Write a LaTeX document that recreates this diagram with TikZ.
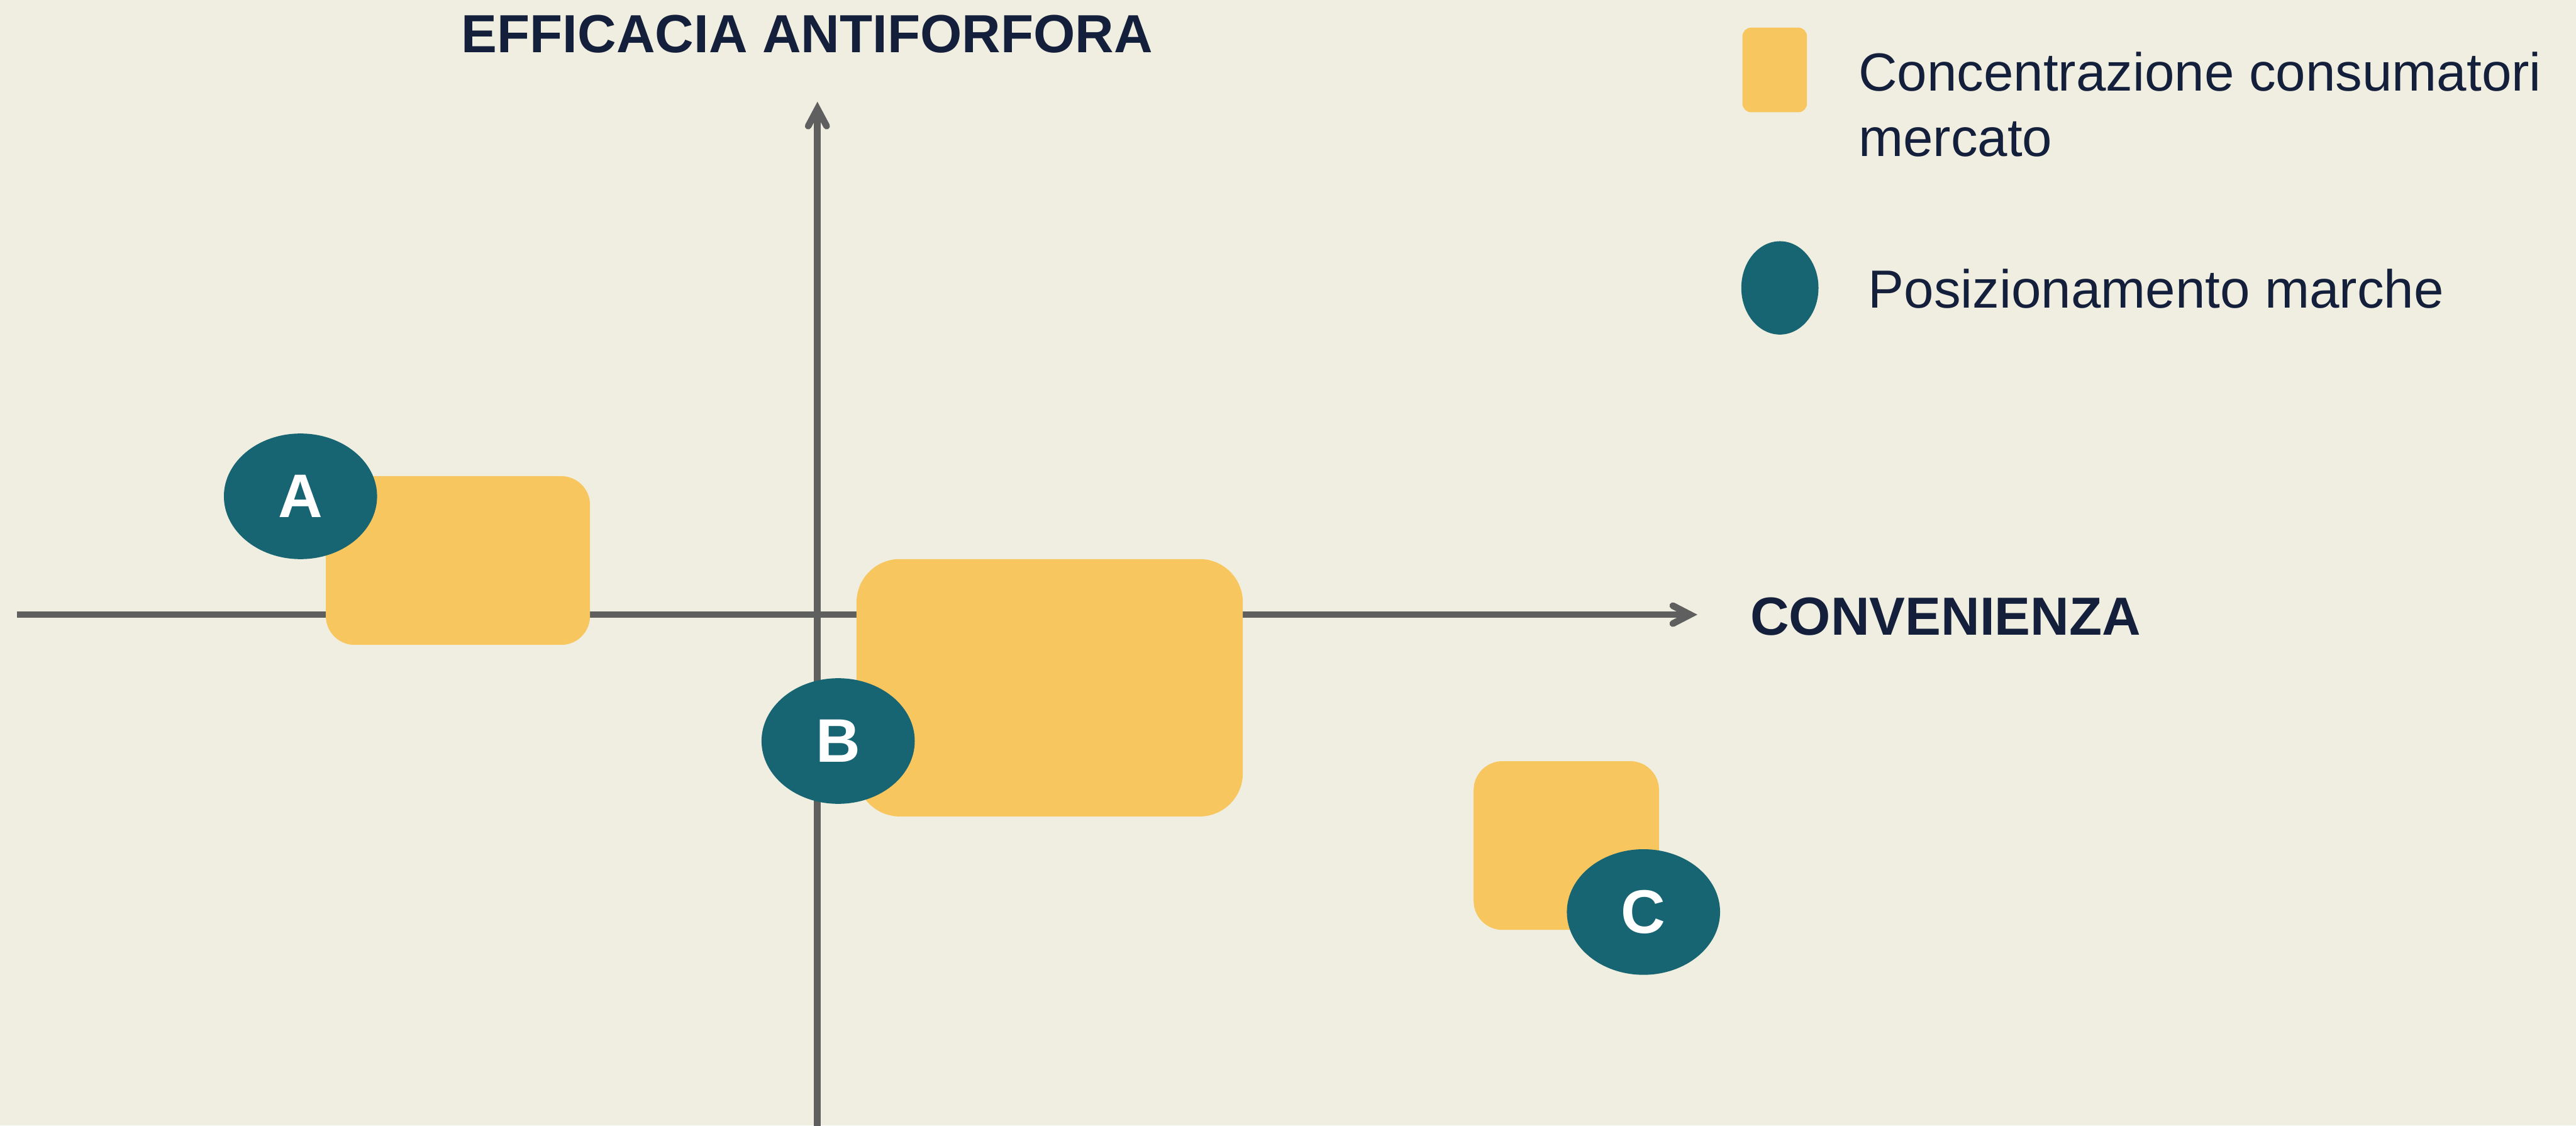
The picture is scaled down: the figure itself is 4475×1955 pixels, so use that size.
\documentclass[tikz,border=0pt]{standalone}
\usepackage{fontspec}
\setmainfont{Liberation Sans}
\usetikzlibrary{shapes.geometric}
\definecolor{bgc}{HTML}{F0EEE0}
\definecolor{yel}{HTML}{F8C65E}
\definecolor{teal2}{HTML}{176472}
\definecolor{axisgray}{HTML}{5F5F5F}
\definecolor{navy}{HTML}{141F3B}
\tikzset{
  axisline/.style={draw=axisgray, line width=0.116cm},
  barb/.style={draw=axisgray, line width=0.116cm, line cap=round, line join=miter},
  zone/.style={fill=yel},
  brand/.style={ellipse, fill=teal2, inner sep=0pt, minimum width=2.66cm, minimum height=2.18cm,
     text=white, font=\bfseries\fontsize{30.4pt}{34pt}\selectfont},
  axislabel/.style={inner sep=0pt, anchor=base west, text=navy, font=\bfseries\fontsize{26.5pt}{32pt}\selectfont},
  legendtext/.style={inner sep=0pt, anchor=base west, text=navy, font=\fontsize{26.5pt}{32pt}\selectfont},
}
\begin{document}
\begin{tikzpicture}[x=0.01cm, y=-0.01cm]
\fill[bgc] (0,0) rectangle (4475,1955);
\useasboundingbox (0,0) rectangle (4475,1955);
% axes
\coordinate (xstart) at (29,1067.5);
\coordinate (xjoin) at (2936,1067.5);
\coordinate (ystart) at (1420,1960);
\coordinate (yjoin) at (1420,189);
\draw[axisline] (xstart) -- (xjoin);
\draw[barb] (2906,1052) -- (xjoin) -- (2906,1083);
\draw[axisline] (ystart) -- (yjoin);
\draw[barb] (1404,219) -- (yjoin) -- (1436,219);
% axis labels
\node[axislabel] (ylab) at (801,91) {EFFICACIA ANTIFORFORA};
\node[axislabel] (xlab) at (3040,1103) {CONVENIENZA};
% market concentration zones
\fill[zone, rounded corners=0.5cm] (566,827) rectangle (1025,1120);
\fill[zone, rounded corners=0.75cm] (1488,971) rectangle (2159,1418);
\fill[zone, rounded corners=0.5cm] (2560,1322) rectangle (2882,1615);
% brands
\node[brand] (A) at (522,862) {A};
\node[brand] (B) at (1456,1287) {B};
\node[brand] (C) at (2855,1584) {C};
% legend
\fill[zone, rounded corners=0.15cm] (3027,48) rectangle (3139,195);
\node[legendtext] (leg1a) at (3228,158) {Concentrazione consumatori};
\node[legendtext] (leg1b) at (3228,271) {mercato};
\node[ellipse, fill=teal2, inner sep=0pt, minimum width=1.34cm, minimum height=1.62cm] (legell) at (3092,500) {};
\node[legendtext] (leg2) at (3245,535) {Posizionamento marche};
\end{tikzpicture}
\end{document}
